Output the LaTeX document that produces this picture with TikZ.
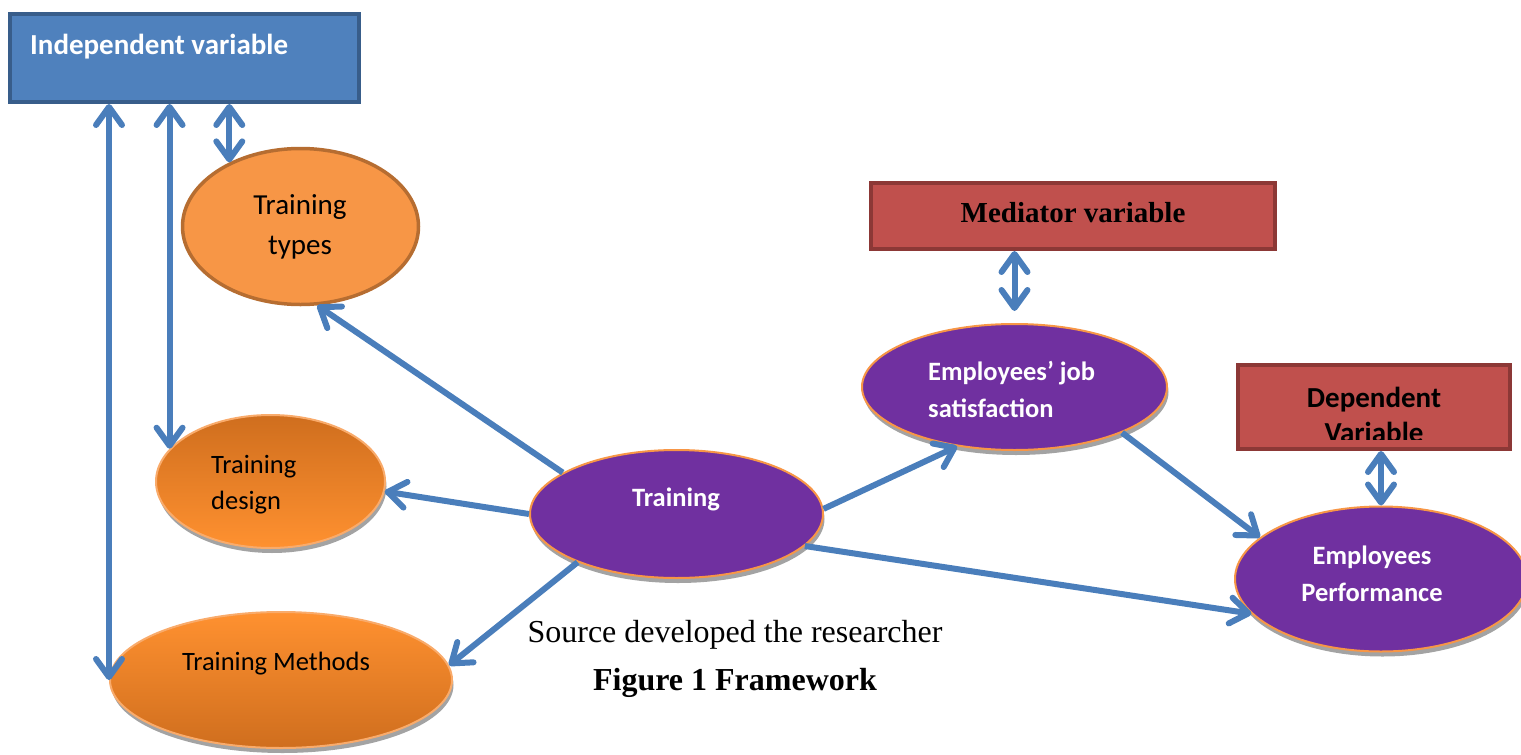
\documentclass[tikz,border=0pt]{standalone}
\usepackage{fontspec}
\setmainfont{Liberation Serif}
\newfontfamily\calibri{Carlito}
\usetikzlibrary{arrows.meta,shapes.geometric,shadows}
\definecolor{arrowblue}{HTML}{4A7EBB}
\definecolor{boxblue}{HTML}{4F81BD}
\definecolor{boxblueline}{HTML}{385D8A}
\definecolor{boxred}{HTML}{C0504D}
\definecolor{boxredline}{HTML}{8C3836}
\definecolor{bubbleorange}{HTML}{F79646}
\definecolor{bubbleorangeline}{HTML}{B66D31}
\definecolor{deeporange}{HTML}{CF6E1E}
\definecolor{lightorange}{HTML}{FF9130}
\definecolor{bubblepurple}{HTML}{7030A0}

\tikzset{
  barb/.tip = {Straight Barb[length=18pt, width=26pt, round]},
  link/.style = {draw=arrowblue, line width=6pt, -barb},
  twoway/.style = {link, barb-barb},
  varbox/.style = {rectangle, line width=4pt, inner sep=0pt},
  bubble/.style = {ellipse, inner sep=0pt, line width=2pt},
  bubbleshadow/.style = {drop shadow={shadow xshift=1.5pt, shadow yshift=-5pt, fill=black!36, opacity=1}},
  orangebubble/.style = {bubble, draw=bubbleorange!80!white, bubbleshadow},
  purplebubble/.style = {bubble, draw=bubbleorange, fill=bubblepurple, bubbleshadow},
  words/.style = {inner sep=0pt, font=\calibri\fontsize{26.5}{#1}\selectfont},
  words/.default = 37,
  whitewords/.style = {inner sep=0pt, text=white, font=\calibri\bfseries\fontsize{26.5}{37}\selectfont},
  bigwords/.style = {inner sep=0pt, font=\calibri\fontsize{29}{40}\selectfont},
}

\begin{document}
\begin{tikzpicture}[x=1pt, y=-1pt]
\useasboundingbox (0,0) rectangle (1521,755);
% variable boxes
\node[varbox, fill=boxblue, draw=boxblueline, minimum width=349pt, minimum height=88pt] (indep) at (184.5,58) {};
\node[varbox, fill=boxred, draw=boxredline, minimum width=404pt, minimum height=66pt] (med) at (1073,216) {};
\node[varbox, fill=boxred, draw=boxredline, minimum width=272pt, minimum height=84pt] (dep) at (1374,407) {};
\node[inner sep=0pt, text=white, font=\calibri\bfseries\fontsize{29}{35}\selectfont, anchor=base west] (indep-text) at (30,54) {Independent variable};
\node[inner sep=0pt, font=\bfseries\fontsize{29}{34}\selectfont, anchor=base] (med-text) at (1073,222) {Mediator variable};
\begin{scope}
\clip ([yshift=12pt]dep.south west) rectangle (dep.north east);
\node[inner sep=0pt, font=\calibri\bfseries\fontsize{29}{35}\selectfont, align=center] (dep-text) at (1374,415) {Dependent\\Variable};
\end{scope}

% training bubbles
\node[bubble, draw=bubbleorangeline, fill=bubbleorange, line width=3.5pt, minimum width=236pt, minimum height=156pt] (ttyp) at (300.5,226.5) {};
\node[orangebubble, top color=deeporange, bottom color=lightorange, minimum width=229pt, minimum height=133pt] (tdes) at (270.5,481.5) {};
\node[orangebubble, top color=lightorange, bottom color=deeporange, minimum width=342pt, minimum height=136pt] (tmeth) at (281,680) {};
\node[bigwords, align=center] (ttyp-text) at (300,227) {Training\\types};
\node[words=36, align=left, anchor=west] (tdes-text) at (211,485) {Training\\design};
\node[words, anchor=base] (tmeth-text) at (276,670) {Training Methods};

% purple bubbles
\node[purplebubble, minimum width=293pt, minimum height=128pt] (train) at (676.5,514) {};
\node[purplebubble, minimum width=305pt, minimum height=126pt] (jobsat) at (1014.5,387) {};
\node[purplebubble, minimum width=292pt, minimum height=145pt] (perf) at (1381,579) {};
\node[whitewords, anchor=base] (train-text) at (676,506) {Training};
\node[whitewords, align=left, anchor=west] (jobsat-text) at (928,389) {Employees’ job\\satisfaction};
\node[whitewords, align=center] (perf-text) at (1372,574) {Employees\\Performance};

% links
\path[twoway] (indep.south -| tmeth.west) to (tmeth.west);
\path[twoway] (indep.south -| tdes.162) to (tdes.162);
\path[twoway] (indep.south -| ttyp.138) to (ttyp.138);
\path[link] (train.160) to (ttyp.282);
\path[link] (train.180) to (tdes.355);
\path[link] (train.206) to (tmeth.5);
\path[link] (train.2) to (jobsat.226);
\path[link] (train.346) to (perf.195);
\path[link] (jobsat.337) to (perf.161);
\path[twoway] (med.south -| jobsat.north) to ([yshift=12pt]jobsat.north);
\path[twoway] (dep.south -| perf.north) to (perf.north);

% caption
\node[inner sep=0pt, font=\fontsize{32}{38}\selectfont, anchor=base] (source) at (735,642) {Source developed the researcher};
\node[inner sep=0pt, font=\bfseries\fontsize{32}{38}\selectfont, anchor=base] (caption) at (735,690) {Figure 1 Framework};
\end{tikzpicture}
\end{document}
